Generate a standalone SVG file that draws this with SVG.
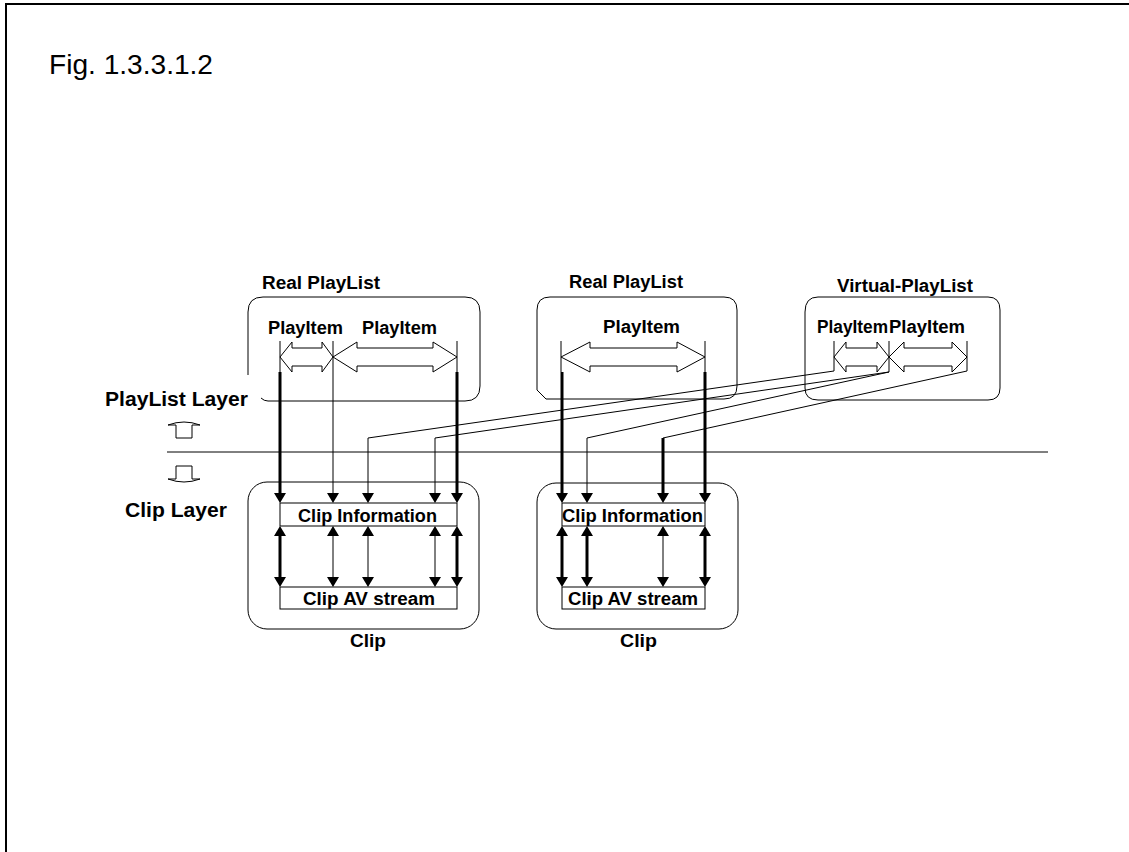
<svg xmlns="http://www.w3.org/2000/svg" width="1129" height="852" viewBox="0 0 1129 852">
<style>
.t{font-family:"Liberation Sans",Arial,sans-serif;font-weight:bold;font-size:18px;fill:#000}
.box{fill:none;stroke:#000;stroke-width:1}
.rect{fill:#fff;stroke:#000;stroke-width:1}
.thin{fill:none;stroke:#000;stroke-width:1}
.thick{fill:none;stroke:#000;stroke-width:3}
.hollow{fill:#fff;stroke:#000;stroke-width:1}
</style>
<defs>
<marker id="ah" viewBox="0 0 10 12" refX="6" refY="6" markerWidth="10" markerHeight="12" markerUnits="userSpaceOnUse" orient="auto-start-reverse">
<path d="M0,0 L10,6 L0,12 Z" fill="#000"/>
</marker>
</defs>
<rect width="1129" height="852" fill="#fff"/>
<g id="frame">
<line x1="5" y1="4" x2="1129" y2="4" stroke="#000" stroke-width="2"/>
<line x1="6" y1="3" x2="6" y2="852" stroke="#000" stroke-width="2"/>
</g>
<g id="title">
<text x="49" y="74" font-family="Liberation Sans, Arial, sans-serif" font-size="28" textLength="164" lengthAdjust="spacingAndGlyphs">Fig. 1.3.3.1.2</text>
</g>

<g id="playlist1">
<path class="box" d="M248,375 L248,312 Q248,297 263,297 L465,297 Q480,297 480,312 L480,386 Q480,401 465,401 L268,401 Q264,401 261,398"/>
<text class="t" x="262" y="289" textLength="118" lengthAdjust="spacingAndGlyphs">Real PlayList</text>
<text class="t" x="268" y="334" textLength="75" lengthAdjust="spacingAndGlyphs">PlayItem</text>
<text class="t" x="362" y="334" textLength="75" lengthAdjust="spacingAndGlyphs">PlayItem</text>
<path class="hollow" d="M280,357 L292,342 L292,348 L322,348 L322,342 L333,357 L322,372 L322,366 L292,366 L292,372 Z"/>
<path class="hollow" d="M333,357 L357,342 L357,348 L433,348 L433,342 L457,357 L433,372 L433,366 L357,366 L357,372 Z"/>
</g>

<g id="playlist2">
<path class="box" d="M537,390 L537,310 Q537,297 550,297 L724,297 Q737,297 737,310 L737,386 Q737,399 724,399 L546,399 Z"/>
<text class="t" x="569" y="288" textLength="114" lengthAdjust="spacingAndGlyphs">Real PlayList</text>
<text class="t" x="603" y="333" textLength="77" lengthAdjust="spacingAndGlyphs">PlayItem</text>
<path class="hollow" d="M561,357 L590,342 L590,348 L677,348 L677,342 L705,357 L677,372 L677,366 L590,366 L590,372 Z"/>
</g>

<g id="vplaylist">
<path class="box" d="M805,312 Q805,297 818,297 L988,297 Q1000,297 1000,310 L1000,388 Q1000,400 988,400 L818,400 Q805,400 805,388 Z"/>
<text class="t" x="837" y="292" textLength="136" lengthAdjust="spacingAndGlyphs">Virtual-PlayList</text>
<text class="t" x="817" y="333" textLength="71" lengthAdjust="spacingAndGlyphs">PlayItem</text>
<text class="t" x="889" y="333" textLength="76" lengthAdjust="spacingAndGlyphs">PlayItem</text>
<path class="hollow" d="M834,357 L846,342 L846,348 L877,348 L877,342 L889,357 L877,372 L877,366 L846,366 L846,372 Z"/>
<path class="hollow" d="M889,357 L904,342 L904,348 L952,348 L952,342 L967,357 L952,372 L952,366 L904,366 L904,372 Z"/>
</g>

<g id="layers">
<text class="t" x="105" y="406" font-size="20" style="font-size:20px" textLength="143" lengthAdjust="spacingAndGlyphs">PlayList Layer</text>
<text class="t" x="125" y="517" style="font-size:20px" textLength="102" lengthAdjust="spacingAndGlyphs">Clip Layer</text>
<line class="thin" x1="167" y1="452" x2="1048" y2="452"/>
<path class="hollow" d="M168,425 Q184,419 200,425 L192,425 L192,438 L176,438 L176,425 Z"/>
<path class="hollow" d="M176,466 L192,466 L192,479 L200,479 Q184,485 168,479 L176,479 Z"/>
</g>

<g id="clip1">
<rect class="box" x="248" y="482" width="231" height="147" rx="19" ry="19"/>
<rect class="rect" x="280" y="503" width="177" height="23"/>
<rect class="rect" x="280" y="587" width="177" height="22"/>
<text class="t" x="298" y="522" textLength="139" lengthAdjust="spacingAndGlyphs">Clip Information</text>
<text class="t" x="303" y="605" textLength="132" lengthAdjust="spacingAndGlyphs">Clip AV stream</text>
<text class="t" x="350" y="647" textLength="36" lengthAdjust="spacingAndGlyphs">Clip</text>
</g>

<g id="clip2">
<rect class="box" x="537" y="483" width="201" height="146" rx="19" ry="19"/>
<rect class="rect" x="562" y="503" width="143" height="23"/>
<rect class="rect" x="562" y="587" width="143" height="22"/>
<text class="t" x="562" y="522" textLength="141" lengthAdjust="spacingAndGlyphs">Clip Information</text>
<text class="t" x="568" y="605" textLength="130" lengthAdjust="spacingAndGlyphs">Clip AV stream</text>
<text class="t" x="620" y="647" textLength="37" lengthAdjust="spacingAndGlyphs">Clip</text>
</g>

<g id="connectors">
<!-- ticks -->
<line class="thin" x1="280" y1="341" x2="280" y2="372"/>
<line class="thin" x1="457" y1="341" x2="457" y2="372"/>
<line class="thin" x1="561" y1="341" x2="561" y2="372"/>
<line class="thin" x1="705" y1="341" x2="705" y2="372"/>
<line class="thin" x1="834" y1="341" x2="834" y2="371"/>
<line class="thin" x1="889" y1="341" x2="889" y2="372"/>
<line class="thin" x1="967" y1="341" x2="967" y2="371"/>
<!-- slanted links from virtual playlist -->
<polyline class="thin" points="834,371 368,438 368,499" marker-end="url(#ah)"/>
<polyline class="thin" points="889,372 435,438 435,499" marker-end="url(#ah)"/>
<polyline class="thin" points="889,372 587,438 587,499" marker-end="url(#ah)"/>
<line class="thin" x1="967" y1="371" x2="663" y2="438"/>
<line class="thick" x1="663" y1="438" x2="663" y2="499" marker-end="url(#ah)"/>
<!-- playlist to clip info -->
<line class="thick" x1="280" y1="372" x2="280" y2="499" marker-end="url(#ah)"/>
<line class="thin" x1="333" y1="341" x2="333" y2="499" marker-end="url(#ah)"/>
<line class="thick" x1="457" y1="372" x2="457" y2="499" marker-end="url(#ah)"/>
<line class="thick" x1="562" y1="372" x2="562" y2="499" marker-end="url(#ah)"/>
<line class="thick" x1="705" y1="372" x2="705" y2="499" marker-end="url(#ah)"/>
<!-- clip info to AV stream -->
<line class="thick" x1="280" y1="530" x2="280" y2="583" marker-start="url(#ah)" marker-end="url(#ah)"/>
<line class="thin" x1="333" y1="530" x2="333" y2="583" marker-start="url(#ah)" marker-end="url(#ah)"/>
<line class="thin" x1="368" y1="530" x2="368" y2="583" marker-start="url(#ah)" marker-end="url(#ah)"/>
<line class="thin" x1="435" y1="530" x2="435" y2="583" marker-start="url(#ah)" marker-end="url(#ah)"/>
<line class="thick" x1="457" y1="530" x2="457" y2="583" marker-start="url(#ah)" marker-end="url(#ah)"/>
<line class="thick" x1="562" y1="530" x2="562" y2="583" marker-start="url(#ah)" marker-end="url(#ah)"/>
<line class="thick" x1="587" y1="530" x2="587" y2="583" marker-start="url(#ah)" marker-end="url(#ah)"/>
<line class="thin" x1="663" y1="530" x2="663" y2="583" marker-start="url(#ah)" marker-end="url(#ah)"/>
<line class="thick" x1="705" y1="530" x2="705" y2="583" marker-start="url(#ah)" marker-end="url(#ah)"/>
</g>
</svg>
